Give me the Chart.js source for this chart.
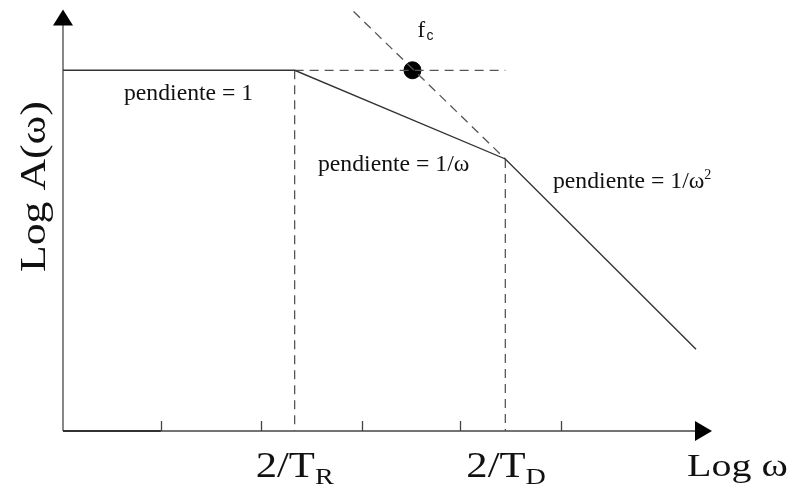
<!DOCTYPE html>
<html>
<head>
<meta charset="utf-8">
<script src="https://cdn.jsdelivr.net/npm/chart.js@4.4.1/dist/chart.umd.min.js"></script>
<style>
  html, body { margin: 0; padding: 0; background: #fff; }
  canvas { display: block; }
</style>
</head>
<body>
<canvas id="bode" width="795" height="490"></canvas>
<script>
// Asymptotic amplitude curve (log-log units)
const asymptoteX = [0, 2.32, 4.43, 6.34];
const asymptoteY = [3.62, 3.62, 2.73, 0.82];
// Dashed helper lines
const levelX = [2.32, 4.43];          // plateau carried on past 2/T_R
const levelY = [3.62, 3.62];
const extensionX = [2.91, 4.43];      // 1/ω² asymptote carried back up
const extensionY = [4.21, 2.73];
const cornerX = [2.32, 4.43];
const cornerY = [3.62, 2.73];
const cornerLabels = ['2/T|R', '2/T|D'];
// Crossover frequency
const fcX = [3.50];
const fcY = [3.62];
// Minor ticks on the frequency axis
const tickX = [0.98, 1.98, 2.99, 3.98, 4.99];
const slopeLabels = ['pendiente = 1', 'pendiente = 1/ω', 'pendiente = 1/ω'];

const SERIF = '"Liberation Serif", "Times New Roman", serif';
const pts = (xs, ys) => xs.map((x, i) => ({ x: x, y: ys[i] }));

const lineSet = (data, dashed) => ({
  data: data,
  showLine: true,
  borderColor: dashed ? '#555' : '#333',
  borderWidth: dashed ? 1.3 : 1.4,
  borderDash: dashed ? [9, 6] : [],
  pointRadius: 0,
  fill: false
});

const datasets = [
  lineSet(pts(asymptoteX, asymptoteY), false),
  lineSet(pts(levelX, levelY), true),
  lineSet(pts(extensionX, extensionY), true),
  lineSet([{ x: cornerX[0], y: cornerY[0] }, { x: cornerX[0], y: 0 }], true),
  lineSet([{ x: cornerX[1], y: cornerY[1] }, { x: cornerX[1], y: 0 }], true),
  {
    data: pts(fcX, fcY),
    showLine: false,
    pointRadius: 8.5,
    pointBackgroundColor: '#000',
    pointBorderColor: '#000'
  }
];

function text(ctx, str, x, y, size, opts) {
  opts = opts || {};
  ctx.save();
  ctx.font = size + 'px ' + (opts.family || SERIF);
  ctx.fillStyle = '#111';
  ctx.textBaseline = 'alphabetic';
  ctx.textAlign = 'left';
  ctx.translate(x, y);
  if (opts.rotate) ctx.rotate(opts.rotate);
  ctx.scale(opts.sx || 1, 1);
  ctx.fillText(str, 0, 0);
  const w = ctx.measureText(str).width * (opts.sx || 1);
  ctx.restore();
  return w;
}

// main text followed by a smaller lowered piece
function textWithSub(ctx, main, sub, x, y, size, shift, sx) {
  const w = text(ctx, main, x, y, size, { sx: sx });
  text(ctx, sub, x + w, y + shift, size * 0.66, { sx: sx });
}

const axesPlugin = {
  id: 'axes',
  beforeDatasetsDraw(chart) {
    const ctx = chart.ctx;
    const xs = chart.scales.x, ys = chart.scales.y;
    const x0 = xs.getPixelForValue(0), y0 = ys.getPixelForValue(0);
    const xEnd = xs.getPixelForValue(xs.max), yEnd = ys.getPixelForValue(ys.max);
    ctx.save();
    // vertical axis
    ctx.strokeStyle = '#6a6a6a';
    ctx.lineWidth = 1.6;
    ctx.beginPath();
    ctx.moveTo(x0, y0);
    ctx.lineTo(x0, yEnd + 14);
    ctx.stroke();
    ctx.fillStyle = '#000';
    ctx.beginPath();
    ctx.moveTo(x0, yEnd);
    ctx.lineTo(x0 - 10, yEnd + 16);
    ctx.lineTo(x0 + 10, yEnd + 16);
    ctx.closePath();
    ctx.fill();
    // horizontal axis
    ctx.strokeStyle = '#444';
    ctx.lineWidth = 1.4;
    ctx.beginPath();
    ctx.moveTo(x0, y0);
    ctx.lineTo(xEnd - 15, y0);
    ctx.stroke();
    ctx.strokeStyle = '#333';
    ctx.lineWidth = 2;
    ctx.beginPath();
    ctx.moveTo(x0, y0);
    ctx.lineTo(xs.getPixelForValue(tickX[0]), y0);
    ctx.stroke();
    ctx.beginPath();
    ctx.moveTo(xEnd, y0);
    ctx.lineTo(xEnd - 17, y0 - 10);
    ctx.lineTo(xEnd - 17, y0 + 10);
    ctx.closePath();
    ctx.fill();
    // ticks
    ctx.strokeStyle = '#444';
    ctx.lineWidth = 1.3;
    tickX.forEach(v => {
      const px = Math.round(xs.getPixelForValue(v)) + 0.5;
      ctx.beginPath();
      ctx.moveTo(px, y0);
      ctx.lineTo(px, y0 - 10);
      ctx.stroke();
    });
    ctx.restore();
  },
  afterDatasetsDraw(chart) {
    const ctx = chart.ctx;
    const xs = chart.scales.x, ys = chart.scales.y;
    const y0 = ys.getPixelForValue(0);

    // slope annotations
    text(ctx, slopeLabels[0], 124, 100, 23, { sx: 1.03 });
    text(ctx, slopeLabels[1], 318, 171, 23, { sx: 1.03 });
    const w = text(ctx, slopeLabels[2], 553, 188, 23, { sx: 1.03 });
    text(ctx, '2', 553 + w, 179, 14);

    // crossover label
    const fcPx = xs.getPixelForValue(fcX[0]);
    text(ctx, 'f', fcPx + 5, 37, 23);
    text(ctx, 'c', fcPx + 14, 40, 14, { family: '"Liberation Sans", Arial, sans-serif' });

    // corner frequencies under the axis
    cornerLabels.forEach((lab, i) => {
      const parts = lab.split('|');
      const px = xs.getPixelForValue(cornerX[i]);
      textWithSub(ctx, parts[0], parts[1], px - 39, y0 + 46, 35, 7, 1.22);
    });

    // axis titles
    text(ctx, 'Log ω', 687, y0 + 45, 32, { sx: 1.25 });
    text(ctx, 'Log A(ω)', 45, 272, 35, { rotate: -Math.PI / 2, sx: 1.25 });
  }
};

new Chart(document.getElementById('bode'), {
  type: 'scatter',
  data: { datasets: datasets },
  options: {
    responsive: false,
    animation: false,
    layout: { padding: { left: 63, right: 83, top: 8, bottom: 59 } },
    plugins: { legend: { display: false }, tooltip: { enabled: false } },
    scales: {
      x: { type: 'linear', min: 0, max: 6.5, display: false },
      y: { type: 'linear', min: 0, max: 4.23, display: false }
    }
  },
  plugins: [axesPlugin]
});
</script>
</body>
</html>
